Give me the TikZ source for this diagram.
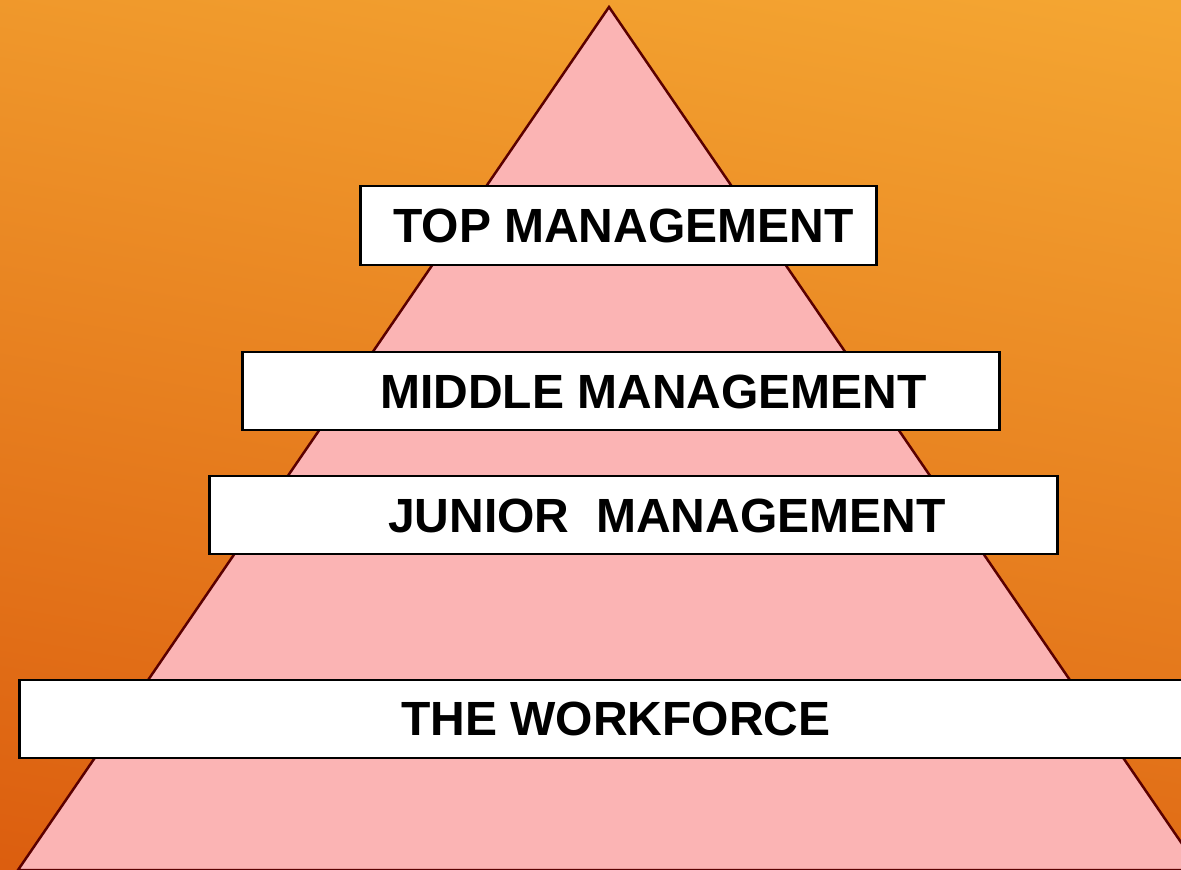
\documentclass[tikz,border=0pt]{standalone}
\usepackage{fontspec}
\setmainfont{Liberation Sans}
\definecolor{bgtop}{HTML}{F5A833}
\definecolor{bgbottom}{HTML}{DB5C0E}
\definecolor{pyrfill}{HTML}{FBB4B4}
\definecolor{pyrline}{HTML}{5A0000}
\tikzset{
  tier/.style={draw=black,line width=2.5pt,fill=white,inner sep=0pt,anchor=north west},
  tiertext/.style={anchor=base west,inner sep=0pt,font=\fontsize{48}{57}\selectfont\bfseries}
}
\begin{document}
\begin{tikzpicture}[x=1pt,y=-1pt]
    \useasboundingbox (0,0) rectangle (1181,870);
    \clip (0,0) rectangle (1181,870);
    \shade[top color=bgtop,bottom color=bgbottom,shading angle=-10] (-100,-100) rectangle (1281,970);
    \coordinate (apex) at (609,7);
    \coordinate (baseL) at (18,870);
    \coordinate (baseR) at (1200,870);
    \filldraw[fill=pyrfill,draw=pyrline,line width=2.5pt] (baseL) -- (apex) -- (baseR) -- cycle;
    \node[tier,minimum width=516pt,minimum height=79pt] (topbox) at (359,184.5) {};
    \node[tier,minimum width=757pt,minimum height=78pt] (midbox) at (241,350.5) {};
    \node[tier,minimum width=848pt,minimum height=78pt] (junbox) at (208,474.5) {};
    \node[tier,minimum width=1200pt,minimum height=78pt] (workbox) at (18,678.5) {};
    \node[tiertext] (toptext) at (393,242) {TOP MANAGEMENT};
    \node[tiertext] (midtext) at (380,408) {MIDDLE MANAGEMENT};
    \node[tiertext] (juntext) at (388,532) {JUNIOR\ \ MANAGEMENT};
    \node[tiertext] (worktext) at (401,735) {THE WORKFORCE};
\end{tikzpicture}
\end{document}
